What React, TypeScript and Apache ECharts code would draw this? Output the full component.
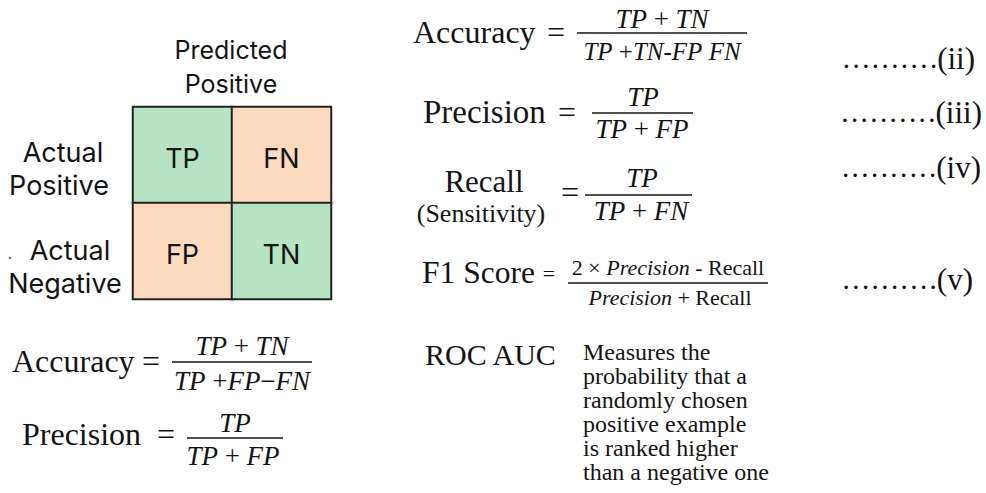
import React, { useEffect, useRef } from "react";
import * as echarts from "echarts";

// ---- data ----
const predictedClasses = ["Positive", "Negative"];
const actualClasses = ["Positive", "Negative"];
// cellLabels[actual][predicted]
const cellLabels = [
  ["TP", "FN"],
  ["FP", "TN"],
];
// 1 = correct prediction, 0 = error
const cellCorrect = [
  [1, 0],
  [0, 1],
];
const equationTags = ["(ii)", "(iii)", "(iv)", "(v)"];
const rocText = [
  "Measures the",
  "probability that a",
  "randomly chosen",
  "positive example",
  "is ranked higher",
  "than a negative one",
];

const SERIF = "'Liberation Serif', 'Times New Roman', serif";
const SANS = "Inter, 'DejaVu Sans', sans-serif";
const INK = "#141414";
const GREEN = "#b6e3c4";
const ORANGE = "#fcdabe";

type Opt = { align?: string; italic?: boolean; family?: string; rich?: boolean; dotSize?: number };

function txt(text: string, x: number, baseline: number, fs: number, o: Opt = {}) {
  const family = o.family || SERIF;
  const style: any = {
    text,
    x: 0,
    y: 0,
    fill: INK,
    fontSize: fs,
    fontFamily: family,
    fontStyle: o.italic ? "italic" : "normal",
    align: o.align || "left",
    verticalAlign: "middle",
  };
  if (o.rich) {
    style.rich = {
      i: { fontStyle: "italic", fontSize: fs, fontFamily: family, fill: INK },
      u: { fontStyle: "normal", fontSize: fs, fontFamily: family, fill: INK },
      d: { fontStyle: "normal", fontSize: o.dotSize || fs, fontFamily: family, fill: INK },
    };
  }
  return { type: "text", x, y: baseline - 0.34 * fs, silent: true, style };
}

function rule(x1: number, x2: number, y: number) {
  return {
    type: "line",
    silent: true,
    shape: { x1, y1: y, x2, y2: y },
    style: { stroke: INK, lineWidth: 1.3 },
  };
}

const DOTS = Array(10).fill(".").join("\u200A");

function buildGraphics() {
  const g: any[] = [];
  // matrix header / side labels
  g.push(txt("Predicted", 231, 58, 25, { align: "center", family: SANS }));
  g.push(txt(predictedClasses[0], 231, 92, 25, { align: "center", family: SANS }));
  g.push(txt("Actual", 63, 162, 27, { align: "center", family: SANS }));
  g.push(txt(actualClasses[0], 59, 195, 27, { align: "center", family: SANS }));
  g.push(txt("Actual", 70, 260, 27, { align: "center", family: SANS }));
  g.push(txt(actualClasses[1], 65, 293, 27, { align: "center", family: SANS }));
  g.push({ type: "circle", silent: true, shape: { cx: 10, cy: 258, r: 1.2 }, style: { fill: "#555" } });

  // left formulas
  g.push(txt("Accuracy", 12, 372, 32));
  g.push(txt("=", 151, 372, 32, { align: "center" }));
  g.push(txt("{i|TP}{u| + }{i|TN}", 242, 355, 27, { align: "center", rich: true }));
  g.push(rule(172, 312, 362));
  g.push(txt("{i|TP}{u| +}{i|FP}{u|\u2212}{i|FN}", 242, 390, 27, { align: "center", rich: true }));

  g.push(txt("Precision", 22, 445, 32));
  g.push(txt("=", 166, 445, 32, { align: "center" }));
  g.push(txt("{i|TP}", 235, 432, 27, { align: "center", rich: true }));
  g.push(rule(187, 283, 438));
  g.push(txt("{i|TP}{u| + }{i|FP}", 233, 465, 27, { align: "center", rich: true }));

  // right formulas
  g.push(txt("Accuracy", 413, 43, 32));
  g.push(txt("=", 556, 43, 32, { align: "center" }));
  g.push(txt("{i|TP}{u| + }{i|TN}", 662, 28, 27, { align: "center", rich: true }));
  g.push(rule(577, 747, 33));
  g.push(txt("{i|TP}{u| +}{i|TN}{u|-}{i|FP}{u| }{i|FN}", 662, 60, 25, { align: "center", rich: true }));

  g.push(txt("Precision", 423, 123, 33));
  g.push(txt("=", 567, 123, 32, { align: "center" }));
  g.push(txt("{i|TP}", 643, 106, 27, { align: "center", rich: true }));
  g.push(rule(592, 693, 113));
  g.push(txt("{i|TP}{u| + }{i|FP}", 642, 138, 27, { align: "center", rich: true }));

  g.push(txt("Recall", 484, 192, 31, { align: "center" }));
  g.push(txt("(Sensitivity)", 481, 222, 26, { align: "center" }));
  g.push(txt("=", 570, 203, 32, { align: "center" }));
  g.push(txt("{i|TP}", 642, 187, 27, { align: "center", rich: true }));
  g.push(rule(585, 692, 195));
  g.push(txt("{i|TP}{u| + }{i|FN}", 641, 220, 27, { align: "center", rich: true }));

  g.push(txt("F1 Score", 422, 283, 31.5));
  g.push(txt("=", 549, 281, 22, { align: "center" }));
  g.push(txt("{u|2 \u00D7 }{i|Precision}{u| - Recall}", 668, 275, 22, { align: "center", rich: true }));
  g.push(rule(568, 768, 283));
  g.push(txt("{i|Precision}{u| + Recall}", 670, 305, 22, { align: "center", rich: true }));

  // equation tags (dot leaders + number), right-aligned at their end points
  const tagBaselines = [69, 123, 178, 290];
  const tagEnds = [975, 982, 981, 973];
  equationTags.forEach((t, i) => {
    g.push(
      txt("{d|" + DOTS + "}{u|" + t + "}", tagEnds[i], tagBaselines[i], 31, {
        rich: true,
        align: "right",
        dotSize: 29,
      })
    );
  });

  // ROC AUC
  g.push(txt("ROC AUC", 425, 365, 30));
  rocText.forEach((line, i) => {
    g.push(txt(line, 583, 360 + i * 24, 24));
  });
  return g;
}

export default function App() {
  const ref = useRef<HTMLDivElement>(null);
  useEffect(() => {
    if (!ref.current) return;
    const chart = echarts.init(ref.current, null, { renderer: "svg" });
    const data: any[] = [];
    actualClasses.forEach((a, ai) => {
      predictedClasses.forEach((p, pi) => {
        data.push({ name: cellLabels[ai][pi], value: [pi, ai, cellCorrect[ai][pi]] });
      });
    });
    chart.setOption({
      animation: false,
      backgroundColor: "#ffffff",
      grid: { left: 133, top: 107, width: 198, height: 192 },
      xAxis: { type: "category", data: predictedClasses, show: false },
      yAxis: { type: "category", data: actualClasses, inverse: true, show: false },
      visualMap: {
        type: "piecewise",
        show: false,
        dimension: 2,
        pieces: [
          { value: 1, color: GREEN },
          { value: 0, color: ORANGE },
        ],
      },
      series: [
        {
          type: "heatmap",
          data,
          itemStyle: { borderColor: "#222", borderWidth: 2 },
          label: {
            show: true,
            formatter: "{b}",
            fontFamily: SANS,
            fontSize: 27,
            color: "#151515",
            offset: [0, 3],
          },
          emphasis: { disabled: true },
        },
      ],
      graphic: buildGraphics(),
    });
    return () => chart.dispose();
  }, []);
  return (
    <div
      ref={ref}
      style={{ position: "fixed", left: 0, top: 0, width: 986, height: 493, background: "#fff" }}
    />
  );
}
